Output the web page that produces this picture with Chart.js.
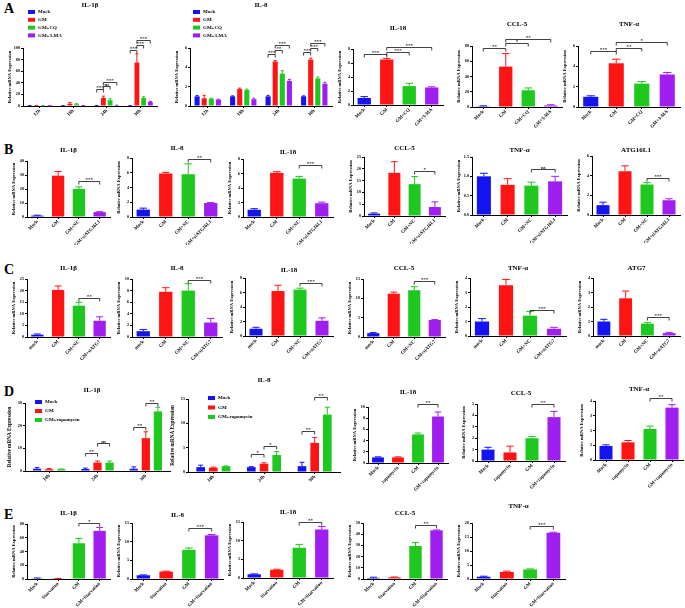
<!DOCTYPE html>
<html>
<head>
<meta charset="utf-8">
<script src="https://cdn.jsdelivr.net/npm/chart.js@4.4.0/dist/chart.umd.min.js"></script>
<style>
html, body { margin: 0; padding: 0; background: #fff; }
#fig { position: relative; width: 685px; height: 608px; overflow: hidden; }
#fig canvas { position: absolute; }
.tag { position: absolute; font: bold 14px 'Liberation Serif', serif; line-height: 16px; }
</style>
</head>
<body>
<div id="fig">
  <div class="tag" style="left:4px;top:1px">A</div>
  <div class="tag" style="left:4px;top:142px">B</div>
  <div class="tag" style="left:4px;top:262px">C</div>
  <div class="tag" style="left:4px;top:384px">D</div>
  <div class="tag" style="left:4px;top:507px">E</div>
</div>
<script>
const FONT = "'Liberation Serif', 'DejaVu Serif', serif";
const COLORS = ["#1414f0", "#ff1414", "#1ec81e", "#a01ef0"];

// ---- row A: CQ / 3-MA ----
const timeA = ["12h", "18h", "24h", "30h"];
const seriesA = ["Mock", "GM", "GM+CQ", "GM+3-MA"];
const aIl1bMock = [0.5, 0.5, 0.5, 0.5], aIl1bMockSd = [0.2, 0.2, 0.2, 0.2];
const aIl1bGM = [0.5, 4, 14, 75], aIl1bGMSd = [0.3, 2, 3, 15];
const aIl1bCQ = [0.3, 3, 10, 14], aIl1bCQSd = [0.2, 1, 2.5, 2];
const aIl1b3MA = [0.3, 0.5, 1, 7], aIl1b3MASd = [0.1, 0.2, 0.3, 1];
const ticksA1 = ["0", "20", "40", "60", "80", "100"];
const aIl8Mock = [1.0, 1.0, 1.0, 1.0], aIl8MockSd = [0.1, 0.05, 0.1, 0.05];
const aIl8GM = [0.8, 1.75, 4.6, 4.8], aIl8GMSd = [0.3, 0.1, 0.1, 0.15];
const aIl8CQ = [0.75, 1.65, 3.35, 2.85], aIl8CQSd = [0.05, 0.1, 0.3, 0.15];
const aIl83MA = [0.65, 0.7, 2.6, 2.3], aIl83MASd = [0.05, 0.1, 0.15, 0.15];
const ticksA2 = ["0", "2", "4", "6"];
const aIl18 = [1.0, 6.5, 2.7, 2.5], aIl18Sd = [0.2, 0.15, 0.4, 0.1];
const ticksA3 = ["0", "2", "4", "6", "8"];
const aCcl5 = [1, 53, 22, 2], aCcl5Sd = [0.5, 17, 3, 1];
const ticksA4 = ["0", "20", "40", "60", "80"];
const aTnf = [1.0, 4.3, 2.3, 3.2], aTnfSd = [0.1, 0.4, 0.2, 0.2];
const ticksA5 = ["0", "2", "4", "6"];

// ---- row B: siATG16L1 ----
const catB = ["Mock", "GM", "GM+NC", "GM+siATG16L1"];
const bIl1b = [1, 29.5, 20, 3.5], bIl1bSd = [0.3, 3, 1.5, 0.3];
const bIl8 = [1.0, 5.9, 5.8, 1.9], bIl8Sd = [0.2, 0.15, 1.4, 0.05];
const bIl18 = [1.0, 6.1, 5.3, 1.9], bIl18Sd = [0.15, 0.15, 0.3, 0.15];
const bCcl5 = [1, 18.3, 13.5, 3.8], bCcl5Sd = [0.3, 4.7, 3.2, 2.2];
const bTnf = [1.0, 0.78, 0.76, 0.87], bTnfSd = [0.08, 0.16, 0.09, 0.13];
const bAtg = [1.0, 4.45, 3.1, 1.5], bAtgSd = [0.3, 0.55, 0.2, 0.15];
const ticksB1 = ["0", "10", "20", "30", "40"];
const ticksB2 = ["0", "2", "4", "6", "8"];
const ticksB4 = ["0", "5", "10", "15", "20", "25"];
const ticksB5 = ["0.0", "0.5", "1.0", "1.5"];
const ticksB6 = ["0", "2", "4", "6"];

// ---- row C: siATG7 ----
const catC = ["mock", "GM", "GM+NC", "GM+siATG7"];
const cIl1b = [1, 20.3, 13.5, 7], cIl1bSd = [0.3, 1.7, 1.5, 1.7];
const cIl8 = [1.0, 7.8, 8.0, 2.5], cIl8Sd = [0.3, 0.7, 1.2, 0.7];
const cIl18 = [1.0, 6.2, 6.4, 2.1], cIl18Sd = [0.2, 0.8, 0.2, 0.4];
const cCcl5 = [1.0, 11.2, 12.1, 4.4], cCcl5Sd = [0.15, 0.4, 0.9, 0.1];
const cTnf = [1.0, 3.5, 1.4, 0.5], cTnfSd = [0.2, 0.4, 0.3, 0.1];
const cAtg = [1.0, 2.6, 0.85, 0.2], cAtgSd = [0.15, 0.5, 0.07, 0.05];
const ticksC1 = ["0", "5", "10", "15", "20", "25"];
const ticksC2 = ["0", "2", "4", "6", "8", "10"];
const ticksC3 = ["0", "2", "4", "6", "8"];
const ticksC4 = ["0", "5", "10", "15"];
const ticksC5 = ["0", "1", "2", "3", "4"];

// ---- row D: rapamycin ----
const timeD = ["18h", "24h", "30h"];
const seriesD = ["Mock", "GM", "GM+rapamycin"];
const catD = ["Mock", "rapamycin", "GM", "GM+rapamycin"];
const dIl1bMock = [1.0, 0.9, 1.0], dIl1bMockSd = [0.5, 0.4, 0.8];
const dIl1bGM = [0.8, 3.7, 14.5], dIl1bGMSd = [0.3, 0.7, 2.8];
const dIl1bRap = [0.8, 3.7, 26.3], dIl1bRapSd = [0.1, 0.7, 1.8];
const dIl8Mock = [1.0, 1.0, 1.2], dIl8MockSd = [0.4, 0.1, 0.8];
const dIl8GM = [0.9, 1.7, 6.0], dIl8GMSd = [0.1, 0.2, 1.1];
const dIl8Rap = [1.2, 3.5, 11.8], dIl8RapSd = [0.05, 0.7, 1.5];
const dIl18 = [1.0, 1.0, 5.1, 8.3], dIl18Sd = [0.1, 0.1, 0.25, 0.8];
const dCcl5 = [1.0, 0.75, 2.0, 3.85], dCcl5Sd = [0.2, 0.55, 0.15, 0.5];
const dTnf = [0.95, 1.2, 2.1, 3.55], dTnfSd = [0.08, 0.12, 0.2, 0.2];
const ticksD1 = ["0", "10", "20", "30"];
const ticksD2 = ["0", "5", "10", "15"];
const ticksD3 = ["0", "2", "4", "6", "8", "10"];
const ticksD4 = ["0", "1", "2", "3", "4", "5"];
const ticksD5 = ["0", "1", "2", "3", "4"];

// ---- row E: starvation ----
const catE = ["Mock", "Starvation", "GM", "GM+Starvation"];
const eIl1b = [1, 0.5, 52, 70], eIl1bSd = [0.5, 0.3, 7, 5];
const eIl8 = [1.0, 2.0, 7.8, 11.7], eIl8Sd = [0.1, 0.1, 0.5, 0.2];
const eIl18 = [1.0, 2.2, 8.1, 13], eIl18Sd = [0.1, 0.15, 0.9, 0.8];
const eCcl5 = [1.0, 1.5, 29.5, 43.5], eCcl5Sd = [0.6, 0.3, 3, 0.3];
const eTnf = [0.8, 2.5, 3.4, 16.5], eTnfSd = [0.2, 0.3, 0.2, 0.2];
const ticksE1 = ["0", "20", "40", "60", "80"];
const ticksE2 = ["0", "5", "10", "15"];
const ticksE4 = ["0", "10", "20", "30", "40", "50"];
const ticksE5 = ["0", "5", "10", "15", "20"];

const grp = (names, vals, sds) => vals.map((v, k) => ({ name: names[k], data: v, sd: sds[k] }));
const one = (v, sd) => [{ data: v, sd: sd }];

// brackets: [dataset, index, dataset, index, y value, text]
const panels = [
  { L: 23, T: 48, R: 157, B: 106, ty: 5, title: "IL-1β", labels: timeA, ticks: ticksA1, legend: { x: 28, y: 12, dy: 7.8 },
    series: grp(seriesA, [aIl1bMock, aIl1bGM, aIl1bCQ, aIl1b3MA], [aIl1bMockSd, aIl1bGMSd, aIl1bCQSd, aIl1b3MASd]),
    brackets: [[0, 2, 1, 2, 29, "***"], [1, 2, 2, 2, 35, "ns"], [1, 2, 3, 2, 41, "***"], [0, 3, 1, 3, 97, "***"], [1, 3, 2, 3, 106, "***"], [1, 3, 3, 3, 114, "***"]] },
  { L: 190, T: 48, R: 332, B: 106, ty: 5, title: "IL-8", labels: timeA, ticks: ticksA2, legend: { x: 193, y: 12, dy: 7.8 },
    series: grp(seriesA, [aIl8Mock, aIl8GM, aIl8CQ, aIl83MA], [aIl8MockSd, aIl8GMSd, aIl8CQSd, aIl83MASd]),
    brackets: [[0, 2, 1, 2, 5.4, "***"], [1, 2, 2, 2, 5.8, "**"], [1, 2, 3, 2, 6.3, "***"], [0, 3, 1, 3, 5.55, "***"], [1, 3, 2, 3, 6.0, "***"], [1, 3, 3, 3, 6.55, "***"]] },
  { L: 353, T: 49, R: 443, B: 105, ty: 28, title: "IL-18", labels: seriesA, ticks: ticksA3, series: one(aIl18, aIl18Sd),
    brackets: [[0, 0, 0, 1, 7.3, "***"], [0, 1, 0, 2, 7.6, "***"], [0, 1, 0, 3, 8.3, "***"]] },
  { L: 472, T: 46, R: 562, B: 107, ty: 24, title: "CCL-5", labels: seriesA, ticks: ticksA4, series: one(aCcl5, aCcl5Sd),
    brackets: [[0, 0, 0, 1, 78, "**"], [0, 1, 0, 2, 84, "*"], [0, 1, 0, 3, 89, "**"]] },
  { L: 578, T: 46, R: 680, B: 107, ty: 24, title: "TNF-α", labels: seriesA, ticks: ticksA5, series: one(aTnf, aTnfSd),
    brackets: [[0, 0, 0, 1, 5.5, "***"], [0, 1, 0, 2, 5.8, "**"], [0, 1, 0, 3, 6.4, "*"]] },

  { L: 27, T: 161, R: 110, B: 217, ty: 150, title: "IL-1β", labels: catB, ticks: ticksB1, series: one(bIl1b, bIl1bSd), brackets: [[0, 2, 0, 3, 25.9, "***"]] },
  { L: 132, T: 158, R: 222, B: 217, ty: 148, title: "IL-8", labels: catB, ticks: ticksB2, series: one(bIl8, bIl8Sd), brackets: [[0, 2, 0, 3, 7.85, "**"]] },
  { L: 243, T: 159, R: 333, B: 217, ty: 152, title: "IL-18", labels: catB, ticks: ticksB2, series: one(bIl18, bIl18Sd), brackets: [[0, 2, 0, 3, 7.2, "***"]] },
  { L: 364, T: 157, R: 445, B: 216, ty: 148, title: "CCL-5", labels: catB, ticks: ticksB4, series: one(bCcl5, bCcl5Sd), brackets: [[0, 2, 0, 3, 19.2, "*"]] },
  { L: 472, T: 157, R: 567, B: 215, ty: 150, title: "TNF-α", labels: catB, ticks: ticksB5, series: one(bTnf, bTnfSd), brackets: [[0, 2, 0, 3, 1.19, "ns"]] },
  { L: 592, T: 156, R: 680, B: 215, ty: 150, title: "ATG16L1", labels: catB, ticks: ticksB6, series: one(bAtg, bAtgSd), brackets: [[0, 2, 0, 3, 3.8, "***"]] },

  { L: 27, T: 279, R: 110, B: 337, ty: 268, title: "IL-1β", labels: catC, ticks: ticksC1, series: one(cIl1b, cIl1bSd), brackets: [[0, 2, 0, 3, 16.9, "**"]] },
  { L: 132, T: 279, R: 222, B: 337, ty: 268, title: "IL-8", labels: catC, ticks: ticksC2, series: one(cIl8, cIl8Sd), brackets: [[0, 2, 0, 3, 9.8, "***"]] },
  { L: 245, T: 278, R: 333, B: 336, ty: 270, title: "IL-18", labels: catC, ticks: ticksC3, series: one(cIl18, cIl18Sd), brackets: [[0, 2, 0, 3, 7.35, "***"]] },
  { L: 363, T: 279, R: 445, B: 337, ty: 268, title: "CCL-5", labels: catC, ticks: ticksC4, series: one(cCcl5, cCcl5Sd), brackets: [[0, 2, 0, 3, 14.5, "***"]] },
  { L: 470, T: 278, R: 566, B: 336, ty: 268, title: "TNF-α", labels: catC, ticks: ticksC5, series: one(cTnf, cTnfSd), brackets: [[0, 2, 0, 3, 1.78, "***"]] },
  { L: 593, T: 278, R: 680, B: 336, ty: 268, title: "ATG7", labels: catC, ticks: ticksC5, series: one(cAtg, cAtgSd), brackets: [[0, 2, 0, 3, 1.33, "***"]] },

  { L: 25, T: 403, R: 170, B: 471, ty: 390, tx: 92, title: "IL-1β", labels: timeD, ticks: ticksD1, yw: 18, yt: 5.2, group: [0.75, 0.68],
    legend: { x: 35, y: 402, dy: 9 },
    series: grp(seriesD, [dIl1bMock, dIl1bGM, dIl1bRap], [dIl1bMockSd, dIl1bGMSd, dIl1bRapSd]),
    brackets: [[0, 1, 1, 1, 8.0, "**"], [1, 1, 2, 1, 12.2, "ns"], [0, 2, 1, 2, 19.6, "**"], [1, 2, 2, 2, 30, "**"]] },
  { L: 188, T: 399, R: 340, B: 472, ty: 380, title: "IL-8", labels: timeD, ticks: ticksD2, yw: 18, yt: 5.2, group: [0.75, 0.68],
    legend: { x: 208, y: 398, dy: 9.5 },
    series: grp(seriesD, [dIl8Mock, dIl8GM, dIl8Rap], [dIl8MockSd, dIl8GMSd, dIl8RapSd]),
    brackets: [[0, 1, 1, 1, 3.6, "*"], [1, 1, 2, 1, 5.4, "*"], [0, 2, 1, 2, 8.5, "**"], [1, 2, 2, 2, 15.5, "**"]] },
  { L: 368, T: 407, R: 448, B: 463, ty: 392, title: "IL-18", labels: catD, ticks: ticksD3, series: one(dIl18, dIl18Sd), brackets: [[0, 2, 0, 3, 10.6, "**"]] },
  { L: 477, T: 404, R: 565, B: 461, ty: 393, title: "CCL-5", labels: catD, ticks: ticksD4, series: one(dCcl5, dCcl5Sd), brackets: [[0, 2, 0, 3, 5.0, "**"]] },
  { L: 595, T: 401, R: 683, B: 460, ty: 389, title: "TNF-α", labels: catD, ticks: ticksD5, series: one(dTnf, dTnfSd), brackets: [[0, 2, 0, 3, 4.18, "**"]] },

  { L: 27, T: 524, R: 110, B: 579, ty: 513, title: "IL-1β", labels: catE, ticks: ticksE1, series: one(eIl1b, eIl1bSd), brackets: [[0, 2, 0, 3, 82, "*"]] },
  { L: 132, T: 523, R: 223, B: 579, ty: 515, title: "IL-8", labels: catE, ticks: ticksE2, series: one(eIl8, eIl8Sd), brackets: [[0, 2, 0, 3, 13.7, "***"]] },
  { L: 243, T: 522, R: 333, B: 578, ty: 512, title: "IL-18", labels: catE, ticks: ticksE2, series: one(eIl18, eIl18Sd), brackets: [[0, 2, 0, 3, 15.0, "**"]] },
  { L: 363, T: 523, R: 447, B: 579, ty: 513, title: "CCL-5", labels: catE, ticks: ticksE4, series: one(eCcl5, eCcl5Sd), brackets: [[0, 2, 0, 3, 48.5, "**"]] },
  { L: 472, T: 523, R: 565, B: 579, ty: 506, title: "TNF-α", labels: catE, ticks: ticksE5, series: one(eTnf, eTnfSd), brackets: [[0, 2, 0, 3, 18.8, "***"]] }
];

// error bars, significance brackets, title and legend
function extras(p) {
  return {
    id: "extras",
    afterDatasetsDraw(chart) {
      const ctx = chart.ctx, ys = chart.scales.y;
      chart.data.datasets.forEach((ds, k) => {
        chart.getDatasetMeta(k).data.forEach((bar, i) => {
          const col = Array.isArray(ds.backgroundColor) ? ds.backgroundColor[i] : ds.backgroundColor;
          const top = ys.getPixelForValue(ds.data[i] + ds.sd[i]);
          const half = Math.max(1.5, bar.width * 0.28);
          ctx.save();
          ctx.strokeStyle = col;
          ctx.lineWidth = 1;
          ctx.beginPath();
          ctx.moveTo(bar.x, bar.y);
          ctx.lineTo(bar.x, top);
          ctx.moveTo(bar.x - half, top);
          ctx.lineTo(bar.x + half, top);
          ctx.stroke();
          ctx.restore();
        });
      });
    },
    afterDraw(chart) {
      const ctx = chart.ctx, ys = chart.scales.y, a = chart.chartArea;
      ctx.save();
      ctx.strokeStyle = "#111";
      ctx.fillStyle = "#111";
      ctx.lineWidth = 0.8;
      ctx.textAlign = "center";
      ctx.textBaseline = "bottom";
      ctx.font = "bold 5px " + FONT;
      p.brackets.forEach(([da, ia, db, ib, v, t]) => {
        const xa = chart.getDatasetMeta(da).data[ia].x;
        const xb = chart.getDatasetMeta(db).data[ib].x;
        const py = Math.round(ys.getPixelForValue(v)) + 0.5;
        ctx.beginPath();
        ctx.moveTo(xa, py + 3);
        ctx.lineTo(xa, py);
        ctx.lineTo(xb, py);
        ctx.lineTo(xb, py + 3);
        ctx.stroke();
        ctx.fillText(t, (xa + xb) / 2, py + 0.5);
      });
      ctx.font = "bold 7px " + FONT;
      ctx.textBaseline = "middle";
      ctx.fillStyle = "#000";
      ctx.fillText(p.title, p.tx != null ? p.tx - p.left : (a.left + a.right) / 2, p.ty - p.top);
      if (p.legend) {
        ctx.textAlign = "left";
        ctx.font = "bold 5px " + FONT;
        chart.data.datasets.forEach((ds, k) => {
          const lx = p.legend.x - p.left, ly = p.legend.y - p.top + k * p.legend.dy;
          ctx.fillStyle = ds.backgroundColor;
          ctx.fillRect(lx, ly - 2, 7, 4);
          ctx.fillStyle = "#000";
          ctx.fillText(ds.label, lx + 10, ly);
        });
      }
      ctx.restore();
    }
  };
}

function panel(p) {
  const yw = p.yw || 16, xh = p.xh || 28;
  p.left = p.L - yw - 1;
  p.top = Math.max(0, p.ty - 7);
  const cv = document.createElement("canvas");
  cv.width = p.R + 3 - p.left;
  cv.height = Math.min(608, p.B + xh) - p.top;
  cv.style.left = p.left + "px";
  cv.style.top = p.top + "px";
  document.getElementById("fig").appendChild(cv);
  const grouped = p.series.length > 1;
  const gp = p.group || [0.8, 0.72];
  const datasets = p.series.map((s, k) => ({
    label: s.name || "",
    data: s.data,
    sd: s.sd,
    backgroundColor: grouped ? COLORS[k] : COLORS,
    categoryPercentage: grouped ? gp[0] : 0.8,
    barPercentage: grouped ? gp[1] : 0.74
  }));
  const tickVals = p.ticks.map(Number);
  new Chart(cv, {
    type: "bar",
    data: { labels: p.labels, datasets: datasets },
    options: {
      responsive: false,
      animation: false,
      devicePixelRatio: 1,
      layout: { padding: { left: 1, right: 3, top: p.T - p.top, bottom: 0 } },
      plugins: { legend: { display: false }, tooltip: { enabled: false }, title: { display: false } },
      scales: {
        x: {
          grid: { display: true, drawOnChartArea: false, offset: false, tickLength: 2, color: "#000" },
          border: { color: "#000", width: 1 },
          ticks: { autoSkip: false, maxRotation: 45, minRotation: 45, padding: 0, color: "#000",
            font: { family: FONT, size: 4.8, weight: "bold" } },
          afterFit: s => { s.height = p.B + xh > 608 ? 608 - p.B : xh; }
        },
        y: {
          min: tickVals[0],
          max: tickVals[tickVals.length - 1],
          afterBuildTicks: s => { s.ticks = tickVals.map(v => ({ value: v })); },
          grid: { display: true, drawOnChartArea: false, tickLength: 2, color: "#000" },
          border: { color: "#000", width: 1 },
          ticks: { padding: 1, color: "#000", font: { family: FONT, size: 4.2, weight: "bold" },
            callback: (v, i) => p.ticks[i] },
          title: { display: true, text: "Relative mRNA Expression", padding: 0, color: "#000",
            font: { family: FONT, size: p.yt || 4.5, weight: "bold" } },
          afterFit: s => { s.width = yw; }
        }
      }
    },
    plugins: [extras(p)]
  });
}

panels.forEach(panel);
</script>
</body>
</html>
